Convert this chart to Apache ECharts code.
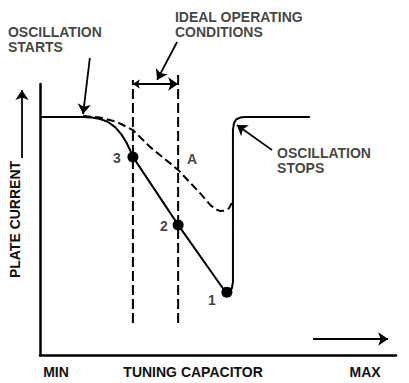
<!DOCTYPE html>
<html>
<head>
<meta charset="utf-8">
<script src="https://cdn.jsdelivr.net/npm/echarts@6/dist/echarts.min.js"></script>
<style>html,body{margin:0;padding:0;background:#fff}#c{width:409px;height:383px}</style>
</head>
<body>
<div id="c"></div>
<script>
// Tuning capacitor (0 = MIN, 100 = MAX) vs plate current (relative %)
const solidX = [0, 12.1, 14.6, 16.9, 19.1, 21.1, 22.8, 24.2, 25.3, 26.1, 38.8, 51.7, 52.2, 52.8, 53.4, 53.9, 54.2, 54.2, 54.5, 55.1, 56.2, 57.6, 75.8];
const solidY = [87.8, 87.8, 87.6, 87.1, 86.0, 84.1, 81.5, 78.6, 75.6, 73.1, 48.0, 24.0, 23.1, 22.9, 23.2, 24.7, 26.9, 83.0, 85.6, 86.9, 87.6, 87.8, 87.8];
const dashX = [12.1, 16.9, 21.6, 26.1, 30.9, 38.8, 44.9, 47.8, 49.2, 50.6, 52.0, 53.1, 53.9];
const dashY = [88.2, 87.6, 86.0, 83.0, 76.8, 68.3, 59.8, 55.4, 53.9, 53.1, 53.3, 54.2, 56.1];
const pointNames = ['3', '2', '1'];
const pointX = [26.1, 38.8, 52.5];
const pointY = [73.1, 48.0, 23.2];
const limitX = [26.1, 38.8];
const limitBottom = [11.8, 11.8];
const limitTop = [101.5, 104.1];
const tickValues = [4.5, 43, 91.3];
const tickLabels = ['MIN', 'TUNING CAPACITOR', 'MAX'];

const FONT = {fontFamily: 'Liberation Sans', fontWeight: 'bold', fontSize: 14, color: '#111'};

const zip = (xs, ys) => xs.map((x, i) => [x, ys[i]]);

const notes = [
  {value: [-9.0, 116.6], name: 'OSCILLATION\nSTARTS', align: 'left'},
  {value: [37.9, 122.0], name: 'IDEAL OPERATING\nCONDITIONS', align: 'left'},
  {value: [66.6, 71.8], name: 'OSCILLATION\nSTOPS', align: 'left'},
  {value: [42.7, 72.3], name: 'A', align: 'center'},
  {value: [21.6, 72.7], name: pointNames[0], align: 'center'},
  {value: [34.8, 47.6], name: pointNames[1], align: 'center'},
  {value: [48.3, 20.3], name: pointNames[2], align: 'center'}
];

const arrows = [
  {coords: [[-5.06, 72.7], [-5.06, 97.8]], symbol: ['none', 'arrow']},
  {coords: [[76.7, 5.9], [97.8, 5.9]], symbol: ['none', 'arrow']},
  {coords: [[14.0, 109.6], [12.1, 88.9]], symbol: ['none', 'arrow']},
  {coords: [[38.5, 115.5], [32.9, 101.5]], symbol: ['none', 'arrow']},
  {coords: [[26.1, 100], [38.8, 100]], symbol: ['arrow', 'arrow']},
  {coords: [[65.2, 75.6], [55.3, 84.9]], symbol: ['none', 'arrow']}
];

const chart = echarts.init(document.getElementById('c'), null, {renderer: 'svg'});
chart.setOption({
  animation: false,
  backgroundColor: '#fff',
  grid: {left: 40, top: 84, width: 356, height: 271},
  xAxis: {
    type: 'value', min: 0, max: 100,
    axisLine: {show: true, lineStyle: {color: '#000', width: 2.5}},
    axisTick: {show: false},
    splitLine: {show: false},
    axisLabel: {
      customValues: tickValues,
      margin: 10,
      formatter: v => tickLabels[tickValues.indexOf(v)] || '',
      ...FONT
    }
  },
  yAxis: {
    type: 'value', min: 0, max: 100,
    axisLine: {show: true, lineStyle: {color: '#000', width: 2.5}},
    axisTick: {show: false},
    splitLine: {show: false},
    axisLabel: {show: false},
    name: 'PLATE CURRENT',
    nameLocation: 'middle',
    nameRotate: 90,
    nameGap: 18,
    nameTextStyle: FONT
  },
  series: [
    {
      type: 'line', data: zip(solidX, solidY), showSymbol: false, clip: false,
      lineStyle: {color: '#000', width: 2}
    },
    {
      type: 'line', data: zip(dashX, dashY), showSymbol: false, clip: false,
      lineStyle: {color: '#000', width: 2, type: [8, 4]}
    },
    {
      type: 'line', data: [[limitX[0], limitBottom[0]], [limitX[0], limitTop[0]]], showSymbol: false, clip: false,
      lineStyle: {color: '#000', width: 2, type: [10, 4]}
    },
    {
      type: 'line', data: [[limitX[1], limitBottom[1]], [limitX[1], limitTop[1]]], showSymbol: false, clip: false,
      lineStyle: {color: '#000', width: 2, type: [10, 4]}
    },
    {
      type: 'scatter', data: zip(pointX, pointY), symbolSize: 11,
      itemStyle: {color: '#000', opacity: 1}, clip: false
    },
    {
      type: 'lines', coordinateSystem: 'cartesian2d', clip: false,
      symbolSize: [7, 10],
      lineStyle: {color: '#000', width: 1.8, opacity: 1},
      itemStyle: {color: '#000'},
      data: arrows
    },
    {
      type: 'scatter', symbolSize: 0, clip: false, silent: true,
      data: notes.map(n => ({
        value: n.value, name: n.name,
        label: {
          show: true, position: 'inside', formatter: '{b}',
          align: n.align, verticalAlign: 'middle', lineHeight: 15, ...FONT
        }
      }))
    }
  ]
});
</script>
</body>
</html>
